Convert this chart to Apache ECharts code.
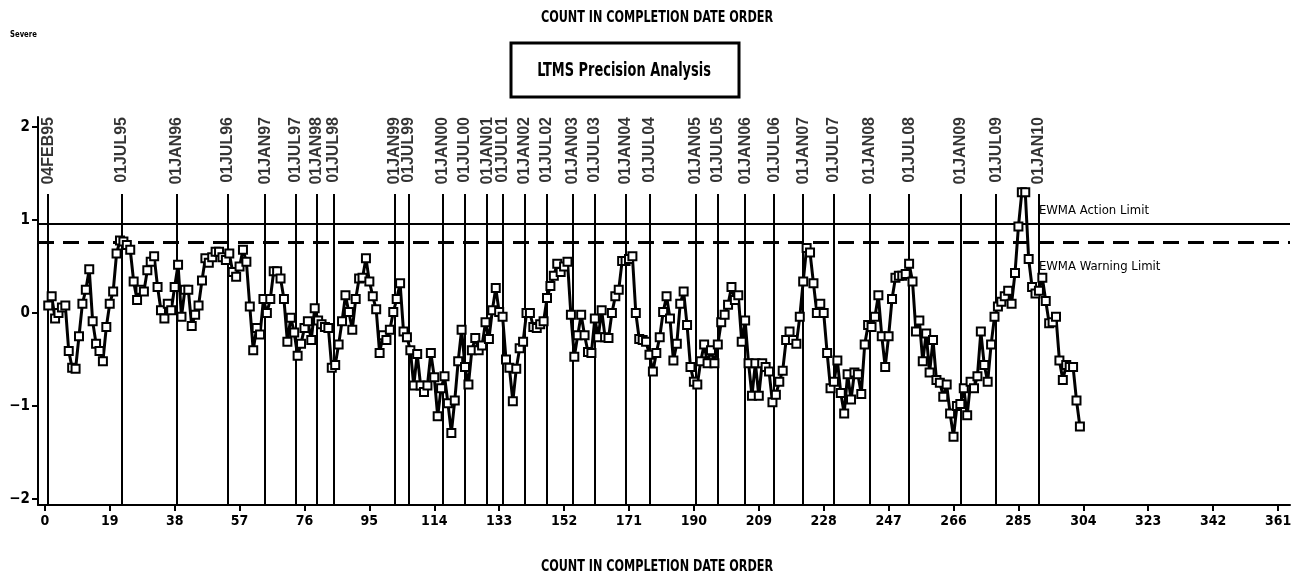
<!DOCTYPE html>
<html><head><meta charset="utf-8">
<script src="https://cdn.jsdelivr.net/npm/echarts@6/dist/echarts.min.js"></script>
<style>html,body{margin:0;padding:0;background:#fff}#c{width:1302px;height:576px}</style>
</head><body><div id="c"></div>
<script>
// EWMA values in completion-date order (count 1..N)
const ewmaValues = [
0.08,0.18,-0.06,0.00,0.06,0.08,-0.41,-0.59,-0.60,-0.25,0.10,0.25,0.47,-0.09,-0.33,-0.41,-0.52,-0.15,0.10,0.23,0.64,0.78,0.77,0.73,0.68,0.34,0.14,0.25,
0.23,0.46,0.55,0.61,0.28,0.03,-0.06,0.10,0.03,0.28,0.52,-0.04,0.25,0.25,-0.14,-0.02,0.08,0.35,0.59,0.54,0.60,0.66,0.66,0.60,0.57,0.64,0.44,0.39,0.50,0.68,0.55,0.07,-0.40,
-0.16,-0.23,0.15,0.00,0.15,0.45,0.45,0.37,0.15,-0.31,-0.05,-0.21,-0.46,-0.33,-0.16,-0.09,-0.29,0.05,-0.08,-0.12,-0.15,-0.16,-0.59,-0.56,-0.34,-0.09,0.19,0.01,-0.18,0.15,0.37,0.38,0.59,0.34,0.18,0.04,
-0.43,-0.24,-0.29,-0.18,0.01,0.15,0.32,-0.20,-0.26,-0.40,-0.78,-0.44,-0.78,-0.85,-0.78,-0.43,-0.69,-1.11,-0.81,-0.68,-0.97,-1.29,-0.94,-0.52,-0.18,
-0.58,-0.77,-0.40,-0.27,-0.40,-0.35,-0.10,-0.28,0.03,0.27,0.01,-0.04,-0.50,-0.59,-0.95,-0.60,-0.38,-0.31,0.00,0.00,-0.15,-0.16,-0.12,-0.09,0.16,0.29,0.40,0.53,
0.44,0.50,0.55,-0.02,-0.47,-0.24,-0.02,-0.24,-0.42,-0.43,-0.06,-0.26,0.03,-0.26,-0.27,0.00,0.18,0.25,0.56,0.56,0.58,0.61,0.00,-0.28,-0.29,-0.31,-0.45,-0.63,-0.43,-0.26,0.01,0.18,
-0.06,-0.51,-0.33,0.10,0.23,-0.13,-0.58,-0.74,-0.77,-0.52,-0.34,-0.54,-0.40,-0.54,-0.34,-0.10,-0.02,0.09,0.28,0.14,0.19,-0.31,-0.08,-0.54,-0.89,-0.54,-0.89,-0.54,-0.58,-0.63,-0.96,
-0.88,-0.74,-0.62,-0.29,-0.20,-0.29,-0.33,-0.04,0.34,0.70,0.65,0.32,0.00,0.10,0.00,-0.43,-0.81,-0.74,-0.51,-0.86,-1.08,-0.66,-0.93,-0.64,-0.66,-0.87,-0.34,-0.13,-0.15,-0.04,0.19,
-0.25,-0.58,-0.25,0.15,0.38,0.40,0.40,0.42,0.53,0.34,-0.20,-0.08,-0.52,-0.22,-0.64,-0.29,-0.72,-0.75,-0.90,-0.77,-1.08,-1.33,-1.00,-0.98,-0.81,-1.10,-0.74,-0.81,-0.68,-0.20,
-0.56,-0.74,-0.34,-0.04,0.07,0.12,0.18,0.24,0.10,0.43,0.93,1.30,1.30,0.58,0.28,0.21,0.24,0.38,0.13,-0.11,-0.10,-0.04,-0.51,-0.72,-0.56,-0.58,-0.58,-0.94,-1.22
];
const dateLabels = ['04FEB95','01JUL95','01JAN96','01JUL96','01JAN97','01JUL97','01JAN98','01JUL98','01JAN99','01JUL99','01JAN00','01JUL00','01JAN01','01JUL01','01JAN02','01JUL02','01JAN03','01JUL03','01JAN04','01JUL04','01JAN05','01JUL05','01JAN06','01JUL06','01JAN07','01JUL07','01JAN08','01JUL08','01JAN09','01JUL09','01JAN10'];
const dateCounts = [1,22.5,38.5,53.5,64.5,73.5,79.5,84.5,102.5,106.5,116.5,123,129.5,134,140.5,147,154.5,161,170,177,190.5,197,205,213.5,222,231,241.5,253,268,278.5,291];
const xTicks = [0,19,38,57,76,95,114,133,152,171,190,209,228,247,266,285,304,323,342,361];
const yTicks = [-2,-1,0,1,2];
const actionLimit = 0.965;
const warningLimit = 0.755;
const limitLabels = ['EWMA Action Limit','EWMA Warning Limit'];
const titleText = 'COUNT IN COMPLETION DATE ORDER';
const boxText = 'LTMS Precision Analysis';
const cornerText = 'Severe';

const X_MIN = -2, X_MAX = 364.5, Y_MIN = -2.065, Y_MAX = 2.108, LINE_TOP = 1.28;
const NARROW = "'Liberation Sans Narrow','DejaVu Sans Condensed','Arial Narrow',sans-serif";
const SANS = "'Liberation Sans',Arial,sans-serif";

const chart = echarts.init(document.getElementById('c'), null, {renderer:'canvas'});
const seriesData = ewmaValues.map((v,i)=>[i+1, v]);

chart.setOption({
  animation:false,
  backgroundColor:'#fff',
  grid:{left:38, right:12, top:117, bottom:71, containLabel:false},
  xAxis:{type:'value', min:X_MIN, max:X_MAX,
    axisLine:{show:true, onZero:false, lineStyle:{color:'#000', width:2}},
    axisTick:{show:true, customValues:xTicks, length:6, lineStyle:{color:'#000', width:2}},
    axisLabel:{customValues:xTicks, color:'#000', fontFamily:NARROW, fontWeight:'bold', fontSize:14, margin:9},
    splitLine:{show:false}},
  yAxis:{type:'value', min:Y_MIN, max:Y_MAX,
    axisLine:{show:true, onZero:false, lineStyle:{color:'#000', width:2}},
    axisTick:{show:true, customValues:yTicks, length:6, lineStyle:{color:'#000', width:2}},
    axisLabel:{customValues:yTicks, color:'#000', fontFamily:NARROW, fontWeight:'bold', fontSize:15, margin:8,
      formatter:v=> v<0 ? '\u2212'+Math.abs(v) : String(v)},
    splitLine:{show:false}},
  graphic:[
    {type:'text', x:10, y:30, scaleX:0.85, style:{text:cornerText, font:"bold 9px "+NARROW, fill:'#000'}},
    {type:'text', x:657, y:18, scaleX:0.78, style:{text:titleText, font:"bold 16px "+NARROW, fill:'#000', align:'center', verticalAlign:'middle'}},
    {type:'rect', shape:{x:511, y:43, width:228, height:54}, style:{fill:'none', stroke:'#000', lineWidth:3}},
    {type:'text', x:624, y:71, scaleX:0.72, style:{text:boxText, font:"bold 20px "+NARROW, fill:'#000', align:'center', verticalAlign:'middle'}},
    {type:'text', x:657, y:567, scaleX:0.78, style:{text:titleText, font:"bold 16px "+NARROW, fill:'#000', align:'center', verticalAlign:'middle'}}
  ],
  series:[
    {type:'line', data:seriesData, symbol:'rect', symbolSize:8, showAllSymbol:true,
     lineStyle:{color:'#000', width:3}, itemStyle:{color:'#fff', borderColor:'#000', borderWidth:2},
     z:5,
     markLine:{silent:true, symbol:['none','none'], label:{show:false},
       data:[
         {yAxis:actionLimit, lineStyle:{color:'#000', width:2, type:'solid'}},
         {yAxis:warningLimit, lineStyle:{color:'#000', width:3, type:[16,9]}}
       ].concat(dateCounts.map(c=>[{coord:[c, Y_MIN], lineStyle:{color:'#000', width:2, type:'solid'}},{coord:[c, LINE_TOP]}]))
     },
     markPoint:{silent:true, symbol:'rect', symbolSize:0,
       label:{show:true, position:'inside', align:'left', verticalAlign:'middle', color:'#000', fontFamily:NARROW, fontSize:13},
       data:[
         {coord:[dateCounts[dateCounts.length-1], actionLimit], label:{formatter:limitLabels[0], offset:[0,-13]}},
         {coord:[dateCounts[dateCounts.length-1], warningLimit], label:{formatter:limitLabels[1], offset:[0,24]}}
       ]}
    },
    {type:'scatter', data:dateCounts.map((c,i)=>({value:[c, Y_MAX], name:dateLabels[i]})),
     symbolSize:0, silent:true, clip:false,
     label:{show:true, formatter:'{b}', rotate:90, position:'inside', align:'right', verticalAlign:'middle',
       color:'#000', fontFamily:SANS, fontWeight:'bold', fontSize:16}}
  ]
});
</script></body></html>
